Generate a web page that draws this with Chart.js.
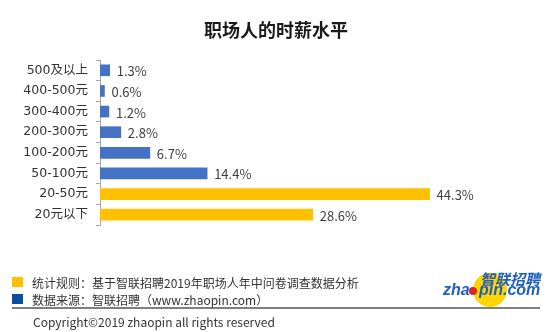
<!DOCTYPE html>
<html>
<head>
<meta charset="utf-8">
<script src="https://cdn.jsdelivr.net/npm/chart.js@4.4.1/dist/chart.umd.min.js"></script>
<style>
  html, body { margin: 0; padding: 0; background: #fff; }
  #wrap { position: relative; width: 550px; height: 332px; }
</style>
</head>
<body>
<div id="wrap"><canvas id="chart" width="550" height="332"></canvas></div>
<script>
const title = '职场人的时薪水平';
const categories = ['500及以上', '400-500元', '300-400元', '200-300元', '100-200元', '50-100元', '20-50元', '20元以下'];
const shares = [1.3, 0.6, 1.2, 2.8, 6.7, 14.4, 44.3, 28.6];
const highlighted = [false, false, false, false, false, false, true, true];
const notes = [
  '统计规则：基于智联招聘2019年职场人年中问卷调查数据分析',
  '数据来源：智联招聘（www.zhaopin.com）'
];
const copyright = 'Copyright©2019 zhaopin all rights reserved';

const BLUE = '#4472C4';
const YELLOW = '#FFC000';
const FONT = '"Noto Sans CJK SC", "Noto Sans", sans-serif';
const TICK_FONT = '"DejaVu Sans", "Noto Sans CJK SC", sans-serif';

// value text to the right of each bar
const barLabels = {
  id: 'barLabels',
  afterDatasetsDraw(chart) {
    const ctx = chart.ctx;
    const meta = chart.getDatasetMeta(0);
    ctx.save();
    ctx.font = '13px ' + FONT;
    ctx.fillStyle = '#404040';
    ctx.textBaseline = 'middle';
    ctx.textAlign = 'left';
    meta.data.forEach((bar, i) => {
      ctx.fillText(shares[i] + '%', bar.x + 7, bar.y + 1);
    });
    ctx.restore();
  }
};

// title, source notes, rule and logo
const frame = {
  id: 'frame',
  afterDraw(chart) {
    const ctx = chart.ctx;
    ctx.save();
    ctx.fillStyle = '#1a1a1a';
    ctx.font = 'bold 18px ' + FONT;
    ctx.textAlign = 'center';
    ctx.textBaseline = 'middle';
    ctx.fillText(title, 276, 30);

    ctx.textAlign = 'left';
    ctx.font = '12px ' + FONT;
    ctx.fillStyle = YELLOW;
    ctx.fillRect(12, 277, 11, 10);
    ctx.fillStyle = '#0b4ea2';
    ctx.fillRect(12, 294, 11, 10);
    ctx.fillStyle = '#333';
    ctx.fillText(notes[0], 32, 283);
    ctx.fillText(notes[1], 32, 300);

    // logo
    ctx.fillStyle = '#ffd400';
    ctx.beginPath();
    ctx.arc(490, 290, 17, 0, Math.PI * 2);
    ctx.fill();
    ctx.fillStyle = '#1f5fbf';
    ctx.font = 'italic bold 15px ' + FONT;
    ctx.fillText('智联招聘', 480, 279);
    ctx.font = 'italic bold 16px "Liberation Sans", sans-serif';
    ctx.fillText('zha', 443, 291);
    ctx.fillText('pin.com', 479, 291);
    ctx.fillStyle = '#d9262c';
    ctx.beginPath();
    ctx.arc(473, 291, 4, 0, Math.PI * 2);
    ctx.fill();

    ctx.strokeStyle = '#555';
    ctx.lineWidth = 1.5;
    ctx.beginPath();
    ctx.moveTo(12, 308);
    ctx.lineTo(540, 308);
    ctx.stroke();

    ctx.fillStyle = '#333';
    ctx.font = '12px ' + FONT;
    ctx.fillText(copyright, 33, 322);
    ctx.restore();
  }
};

new Chart(document.getElementById('chart').getContext('2d'), {
  type: 'bar',
  data: {
    labels: categories,
    datasets: [{
      data: shares,
      backgroundColor: highlighted.map(h => h ? YELLOW : BLUE),
      barThickness: 11
    }]
  },
  options: {
    indexAxis: 'y',
    responsive: false,
    animation: false,
    layout: { padding: { top: 60, bottom: 107, left: 0, right: 78 } },
    plugins: { legend: { display: false }, tooltip: { enabled: false } },
    scales: {
      x: { display: false, min: 0, max: 50 },
      y: {
        afterFit(scale) { scale.width = 100; },
        border: { color: '#a6a6a6', width: 1 },
        grid: { drawOnChartArea: false, drawTicks: true, tickLength: 4, color: '#a6a6a6' },
        ticks: { padding: 8, color: '#333', font: { family: TICK_FONT, size: 12.5 } }
      }
    }
  },
  plugins: [barLabels, frame]
});
</script>
</body>
</html>
